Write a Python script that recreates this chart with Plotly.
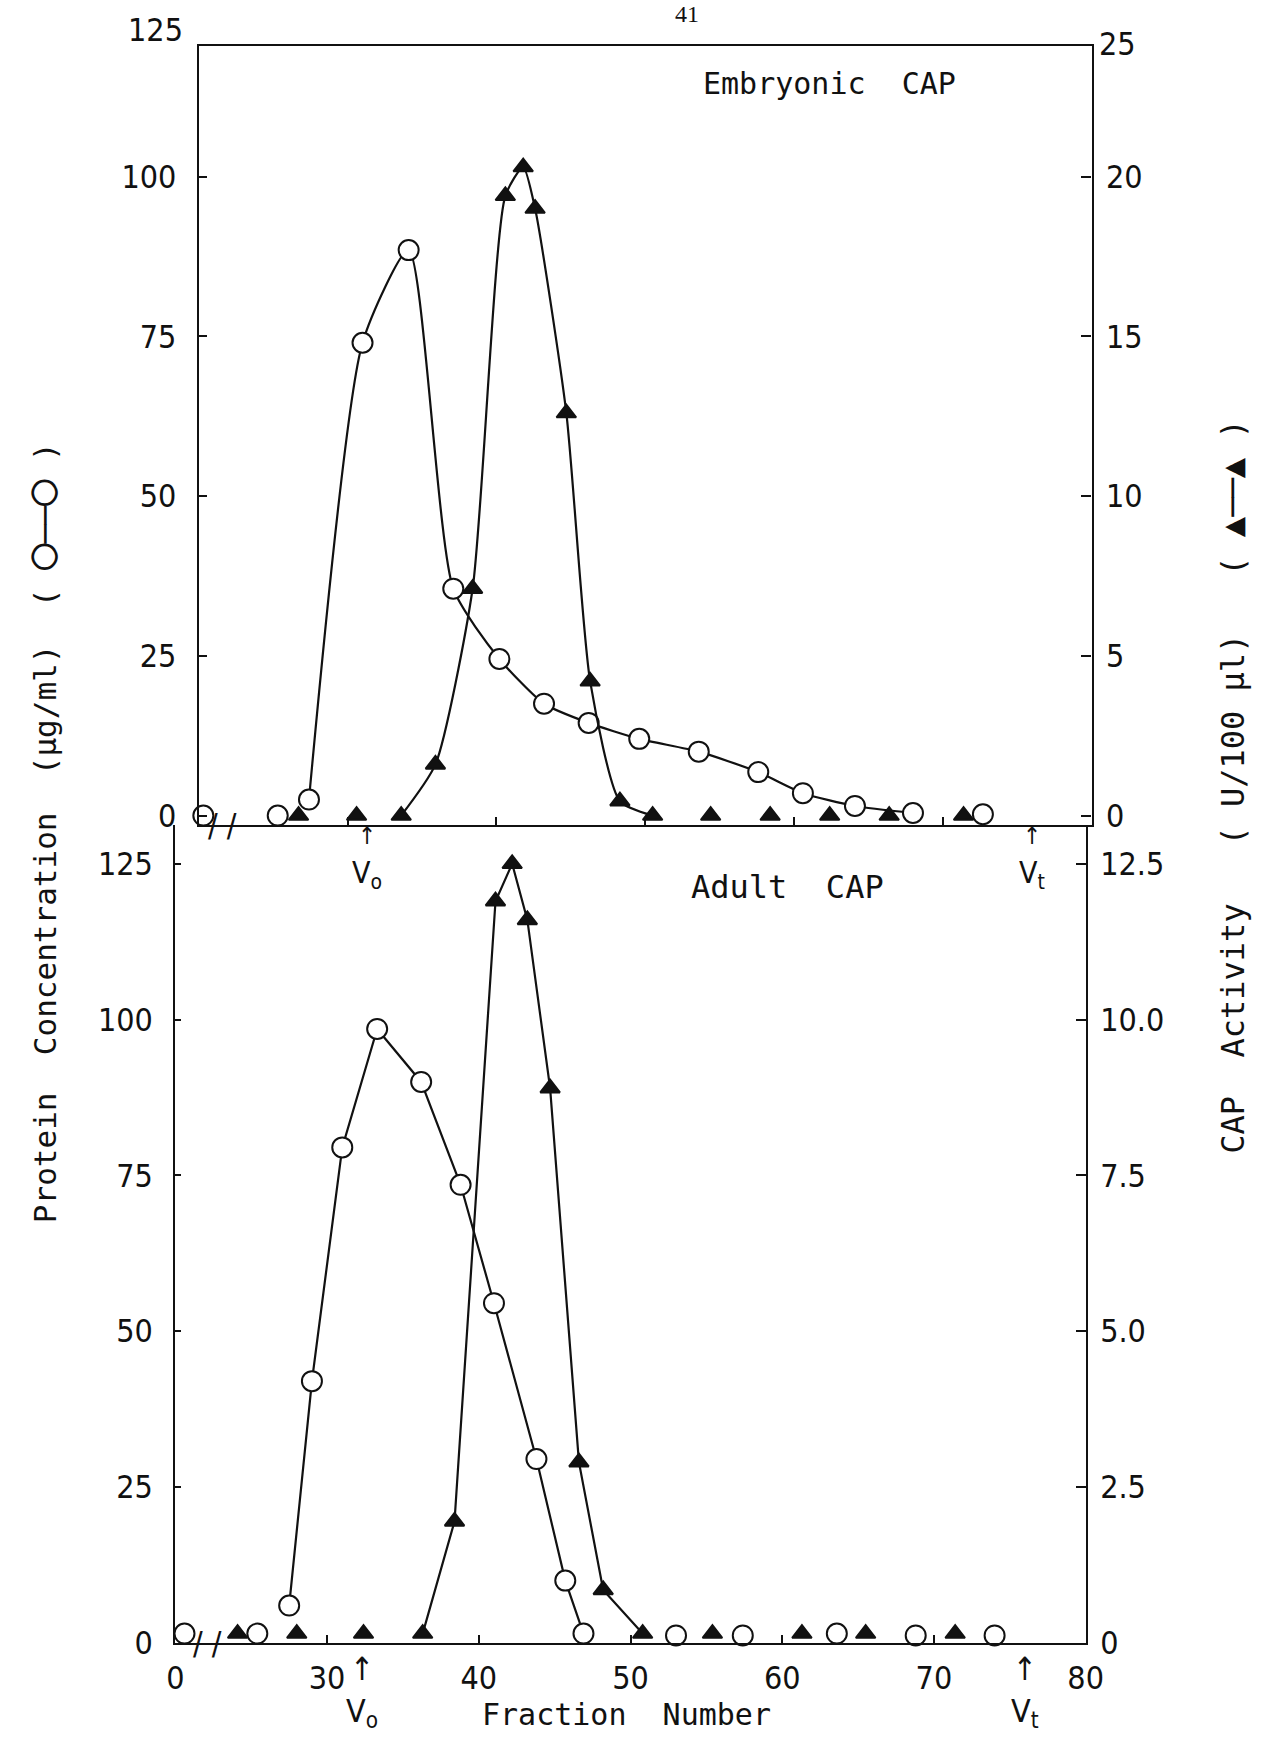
import plotly.graph_objects as go

W, H = 1271, 1747

# ---------------- data ----------------
# Fraction positions use the broken axis: the left axis edge (20) is labelled "0"
emb_prot_x = [20.3, 25.3, 27.4, 31.0, 34.1, 37.1, 40.2, 43.2, 46.2, 49.6, 53.6, 57.6, 60.6, 64.1, 68.0, 72.7]
emb_prot_y = [0, 0, 2.5, 74, 88.5, 35.5, 24.5, 17.5, 14.5, 12, 10, 6.8, 3.5, 1.5, 0.4, 0.2]
emb_act_x = [26.7, 30.6, 33.6, 35.9, 38.4, 40.6, 41.8, 42.6, 44.7, 46.3, 48.3, 50.5, 54.4, 58.4, 62.4, 66.4, 71.4]
emb_act_y = [0, 0, 0, 1.6, 7.1, 19.4, 20.3, 19.0, 12.6, 4.2, 0.45, 0, 0, 0, 0, 0, 0]

ad_prot_x = [20.6, 25.4, 27.5, 29.0, 31.0, 33.3, 36.2, 38.8, 41.0, 43.8, 45.7, 46.9, 53.0, 57.4, 63.6, 68.8, 74.0]
ad_prot_y = [1.5, 1.5, 6, 42, 79.5, 98.5, 90, 73.5, 54.5, 29.5, 10, 1.5, 1.2, 1.2, 1.5, 1.2, 1.2]
ad_act_x = [24.1, 28.0, 32.4, 36.3, 38.4, 41.1, 42.2, 43.2, 44.7, 46.6, 48.2, 50.8, 55.4, 61.3, 65.5, 71.4]
ad_act_y = [0.15, 0.15, 0.15, 0.15, 1.95, 11.9, 12.5, 11.6, 8.9, 2.9, 0.85, 0.15, 0.15, 0.15, 0.15, 0.15]

# connected segments (index ranges of each series that are joined by a line)
emb_prot_line = (2, 15)
emb_act_line = (2, 12)
ad_prot_line = (2, 12)
ad_act_line = (3, 12)

x_tickvals = [20, 30, 40, 50, 60, 70, 80]
x_ticktext = ["0", "30", "40", "50", "60", "70", "80"]
left_ticks = [0, 25, 50, 75, 100, 125]
emb_right_ticks = [0, 5, 10, 15, 20, 25]
ad_right_ticks = [0, 2.5, 5.0, 7.5, 10.0, 12.5]
ad_right_text = ["0", "2.5", "5.0", "7.5", "10.0", "12.5"]

FONT = "DejaVu Sans Condensed, Liberation Sans Narrow, sans-serif"
MONO = "DejaVu Sans Mono, Liberation Mono, monospace"
BLK = "#111111"

# ---------------- geometry (pixels) ----------------
top_l, top_r = 194, 1106
top_t, top_b = 46.8, 834.2      # top panel: value 120.4 at top, -1.5 at the baseline
top_range = [-1.5, 120.4]
bot_l, bot_r = 170, 1100
bot_b = 1661
bot_top_val = 131.2

def fx(p):
    return p / W

def fy(p):
    return 1 - p / H

fig = go.Figure()

def add_series(x, y, seg, xa, ya, symbol, fill, msize, shape):
    a, b = seg
    fig.add_trace(go.Scatter(x=x[a:b], y=y[a:b], xaxis=xa, yaxis=ya, mode="lines",
                             line=dict(color=BLK, width=2.2, shape=shape, smoothing=0.6),
                             hoverinfo="skip", showlegend=False, cliponaxis=False))
    fig.add_trace(go.Scatter(x=x, y=y, xaxis=xa, yaxis=ya, mode="markers",
                             marker=dict(symbol=symbol, size=msize, color=fill,
                                         line=dict(color=BLK, width=2)),
                             showlegend=False, cliponaxis=False))

add_series(emb_act_x, emb_act_y, emb_act_line, "x", "y2", "triangle-up", BLK, 17, "spline")
add_series(emb_prot_x, emb_prot_y, emb_prot_line, "x", "y", "circle", "white", 20, "spline")
add_series(ad_act_x, ad_act_y, ad_act_line, "x2", "y4", "triangle-up", BLK, 17, "linear")
add_series(ad_prot_x, ad_prot_y, ad_prot_line, "x2", "y3", "circle", "white", 20, "linear")

axis_common = dict(showline=True, linecolor=BLK, linewidth=2.2, showgrid=False, zeroline=False,
                   ticks="inside", tickcolor=BLK, tickwidth=2,
                   tickfont=dict(family=FONT, size=32, color=BLK))

fig.update_layout(
    width=W, height=H, margin=dict(l=0, r=0, t=0, b=0),
    paper_bgcolor="white", plot_bgcolor="white",
    xaxis=dict(domain=[fx(top_l), fx(top_r)], range=[20, 80], anchor="y",
               tickvals=x_tickvals[1:-1], showticklabels=False, ticklen=8, mirror=True, **axis_common),
    yaxis=dict(domain=[fy(top_b), fy(top_t)], range=top_range, anchor="x",
               tickvals=left_ticks, ticklen=8, ticklabelstandoff=14, **axis_common),
    yaxis2=dict(domain=[fy(top_b), fy(top_t)], range=[v / 5 for v in top_range], overlaying="y",
                side="right", anchor="x", tickvals=emb_right_ticks, ticklen=10, ticklabelstandoff=6,
                **axis_common),
    xaxis2=dict(domain=[fx(bot_l), fx(bot_r)], range=[20, 80], anchor="y3",
                tickvals=x_tickvals, ticktext=x_ticktext, ticklen=8, ticklabelstandoff=6, **axis_common),
    yaxis3=dict(domain=[fy(bot_b), fy(top_b)], range=[0, bot_top_val], anchor="x2",
                tickvals=left_ticks, ticklen=6, ticklabelstandoff=14, **axis_common),
    yaxis4=dict(domain=[fy(bot_b), fy(top_b)], range=[0, bot_top_val / 10], overlaying="y3", side="right",
                anchor="x2", tickvals=ad_right_ticks, ticktext=ad_right_text, ticklen=10,
                ticklabelstandoff=6, **axis_common),
)

ann = []
def text(x, y, t, size=32, xref="paper", yref="paper", angle=0, family=FONT, xanchor="center", yanchor="middle"):
    ann.append(dict(x=x, y=y, xref=xref, yref=yref, text=t, showarrow=False, textangle=angle,
                    font=dict(family=family, size=size, color=BLK), xanchor=xanchor, yanchor=yanchor))

# top-corner scale labels of the upper panel (the drawn frame stops just under them)
text(fx(top_l - 14), fy(30), "125", 32, xanchor="right")
text(fx(top_r + 6), fy(44), "25", 32, xanchor="left")

# panel titles
text(fx(838), fy(84), "Embryonic&nbsp;&nbsp;CAP", 30, family=MONO)
text(fx(795), fy(897), "Adult&nbsp;&nbsp;CAP", 32, family=MONO)
# page number
text(fx(693), fy(14), "41", 24, family="Liberation Serif, serif")
# axis titles
big_o = "<span style='font-size:44px'>○</span>"
big_t = "<span style='font-size:34px'>▲</span>"
text(fx(33), fy(842),
     "Protein&nbsp;&nbsp;Concentration&nbsp;&nbsp;(µg/ml)&nbsp;&nbsp;(&nbsp;" + big_o + "──" + big_o + "&nbsp;)",
     31, angle=-90, family=MONO)
text(fx(1250), fy(795),
     "CAP&nbsp;&nbsp;Activity&nbsp;&nbsp;&nbsp;(&nbsp;U/100&nbsp;µl)&nbsp;&nbsp;&nbsp;(&nbsp;" + big_t + "──" + big_t + "&nbsp;)",
     32, angle=-90, family=MONO)
text(fx(631), fy(1733), "Fraction&nbsp;&nbsp;Number", 30, family=MONO)

# void / total volume markers (arrow above the label)
text(31.3, fy(867), "<span style='font-size:24px'>↑</span><br>V<sub>o</sub>", 30, xref="x")
text(76.0, fy(867), "<span style='font-size:24px'>↑</span><br>V<sub>t</sub>", 30, xref="x")
text(32.3, fy(1710), "↑<br>V<sub>o</sub>", 32, xref="x2")
text(76.0, fy(1710), "↑<br>V<sub>t</sub>", 32, xref="x2")

# axis break marks
text(21.6, fy(top_b), "/ /", 32, xref="x")
text(22.1, fy(bot_b), "/ /", 32, xref="x2")

fig.update_layout(annotations=ann)
fig.write_html("out.html")
